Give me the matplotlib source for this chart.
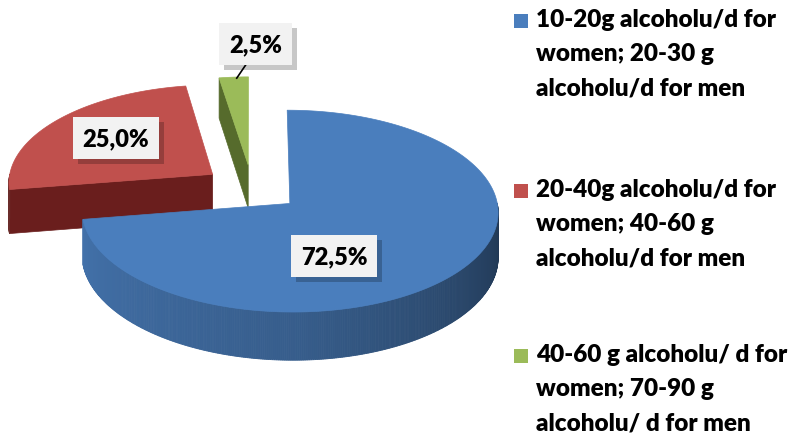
import numpy as np
import matplotlib
matplotlib.use("Agg")
import matplotlib.pyplot as plt
from matplotlib.patches import Polygon, Rectangle
from matplotlib.colors import to_rgb
from matplotlib import font_manager as fm

# ---- data ----
categories = ["10-20g alcoholu/d for\nwomen; 20-30 g\nalcoholu/d for men",
              "20-40g alcoholu/d for\nwomen; 40-60 g\nalcoholu/d for men",
              "40-60 g alcoholu/ d for\nwomen; 70-90 g\nalcoholu/ d for men"]
values = [72.5, 25.0, 2.5]
pct_labels = ["72,5%", "25,0%", "2,5%"]

# ---- style ----
top_colors = ["#4A7EBD", "#C0504D", "#9BBB59"]
cut_colors = ["#2E5180", "#6A1E1D", "#566B2C"]


def pick_bold_font():
    for fam in ["Lato", "Roboto", "Open Sans", "Noto Sans", "Liberation Sans"]:
        try:
            path = fm.findfont(fm.FontProperties(family=fam, weight="bold"), fallback_to_default=False)
        except Exception:
            continue
        name = path.lower()
        if "bold" in name or "black" in name or "heavy" in name:
            return fam
    return "DejaVu Sans"


FONT = [pick_bold_font(), "DejaVu Sans"]
WEIGHT = "heavy"

W, H = 789, 435
fig = plt.figure(figsize=(W / 100, H / 100), dpi=100)
ax = fig.add_axes([0, 0, 1, 1])
ax.set_xlim(0, W)
ax.set_ylim(H, 0)
ax.axis("off")

# pie geometry (pixel canvas)
CX, CY = 252, 189
RX, RY = 205, 98
DEPTH = 44
P = 0.075
EXPLODE = 0.24


def proj(x, y, z):
    f = 1.0 / (1.0 + P * y)
    return CX + RX * x * f, CY - RY * y * f + DEPTH * z * f


total = float(np.sum(values))
ends = np.cumsum(values) / total * 360.0
starts = np.concatenate([[0.0], ends[:-1]])

slices = []
for i in range(len(values)):
    mid = np.radians((starts[i] + ends[i]) / 2)
    ox, oy = EXPLODE * np.sin(mid), EXPLODE * np.cos(mid)
    slices.append((i, starts[i], ends[i], ox, oy))

order = sorted(slices, key=lambda s: -s[4])


def shade(col, k):
    r, g, b = to_rgb(col)
    return (r * k, g * k, b * k)


for (i, a0, a1, ox, oy) in order:
    for a, is_start in ((a0, True), (a1, False)):
        ar = np.radians(a)
        s = np.sin(ar)
        visible = (s < -1e-6) if is_start else (s > 1e-6)
        if not visible:
            continue
        rx, ry = ox + np.sin(ar), oy + np.cos(ar)
        pts = [proj(ox, oy, 0), proj(rx, ry, 0), proj(rx, ry, 1), proj(ox, oy, 1)]
        ax.add_patch(Polygon(pts, closed=True, fc=cut_colors[i], ec=cut_colors[i], lw=0.5, zorder=2))
    lo, hi = max(a0, 90.0), min(a1, 270.0)
    if hi > lo:
        ts = np.linspace(lo, hi, int((hi - lo) * 2) + 2)
        for t0, t1 in zip(ts[:-1], ts[1:]):
            tm = (t0 + t1) / 2
            k = np.interp(tm, [90, 180, 270], [0.42, 0.74, 0.92])
            if i == 1:
                k = 0.55
            c = shade(top_colors[i], k)
            pts = []
            for t in (t0, t1):
                tr = np.radians(t)
                pts.append(proj(ox + np.sin(tr), oy + np.cos(tr), 0))
            for t in (t1, t0):
                tr = np.radians(t)
                pts.append(proj(ox + np.sin(tr), oy + np.cos(tr), 1))
            ax.add_patch(Polygon(pts, closed=True, fc=c, ec=c, lw=0.6, zorder=2))
    ts = np.radians(np.linspace(a0, a1, max(int((a1 - a0) * 2), 4)))
    pts = [proj(ox, oy, 0)] + [proj(ox + np.sin(t), oy + np.cos(t), 0) for t in ts]
    ax.add_patch(Polygon(pts, closed=True, fc=top_colors[i], ec=top_colors[i], lw=0.5, zorder=3))

# ---- percentage labels (layout positions in normalized pie coords) ----
label_pos = [(0.38, -0.66), (-0.69, 0.53), (0.02, 1.65)]
label_texts = []
for i, (lx, ly) in enumerate(label_pos):
    px, py = proj(lx, ly, 0)
    t = ax.text(px, py, pct_labels[i], fontsize=17, fontweight=WEIGHT, family=FONT,
                color="black", ha="center", va="center", zorder=6,
                bbox=dict(boxstyle="square,pad=0.42", fc="#F2F2F2", ec="none"))
    label_texts.append(t)

# leader line for the smallest slice
i, a0, a1, ox, oy = slices[2]
mr = np.radians((a0 + a1) / 2)
ex, ey = proj(ox + np.sin(mr), oy + np.cos(mr), 0)

# ---- legend ----
leg_y = [22, 192, 357]
for i, cat in enumerate(categories):
    ax.add_patch(Rectangle((514, leg_y[i] - 7), 14, 14, fc=top_colors[i], ec="none"))
    ax.text(536, leg_y[i] - 13, cat, fontsize=17.5, fontweight=WEIGHT, family=FONT,
            color="black", ha="left", va="top", linespacing=1.68)

# drop shadows behind label boxes
fig.canvas.draw()
inv = ax.transData.inverted()
for t in label_texts:
    bb = t.get_bbox_patch().get_window_extent()
    (x0, y0), (x1, y1) = inv.transform([[bb.x0, bb.y0], [bb.x1, bb.y1]])
    xa, xb = min(x0, x1), max(x0, x1)
    ya, yb = min(y0, y1), max(y0, y1)
    ax.add_patch(Rectangle((xa + 5, ya + 5), xb - xa, yb - ya, fc=(0, 0, 0, 0.22), ec="none", zorder=5))
    if t is label_texts[2]:
        ax.plot([ex + 3, (xa + xb) / 2 - 10], [ey + 1, yb], color="black", lw=1.2, zorder=4)

fig.savefig("out.png", dpi=100)
